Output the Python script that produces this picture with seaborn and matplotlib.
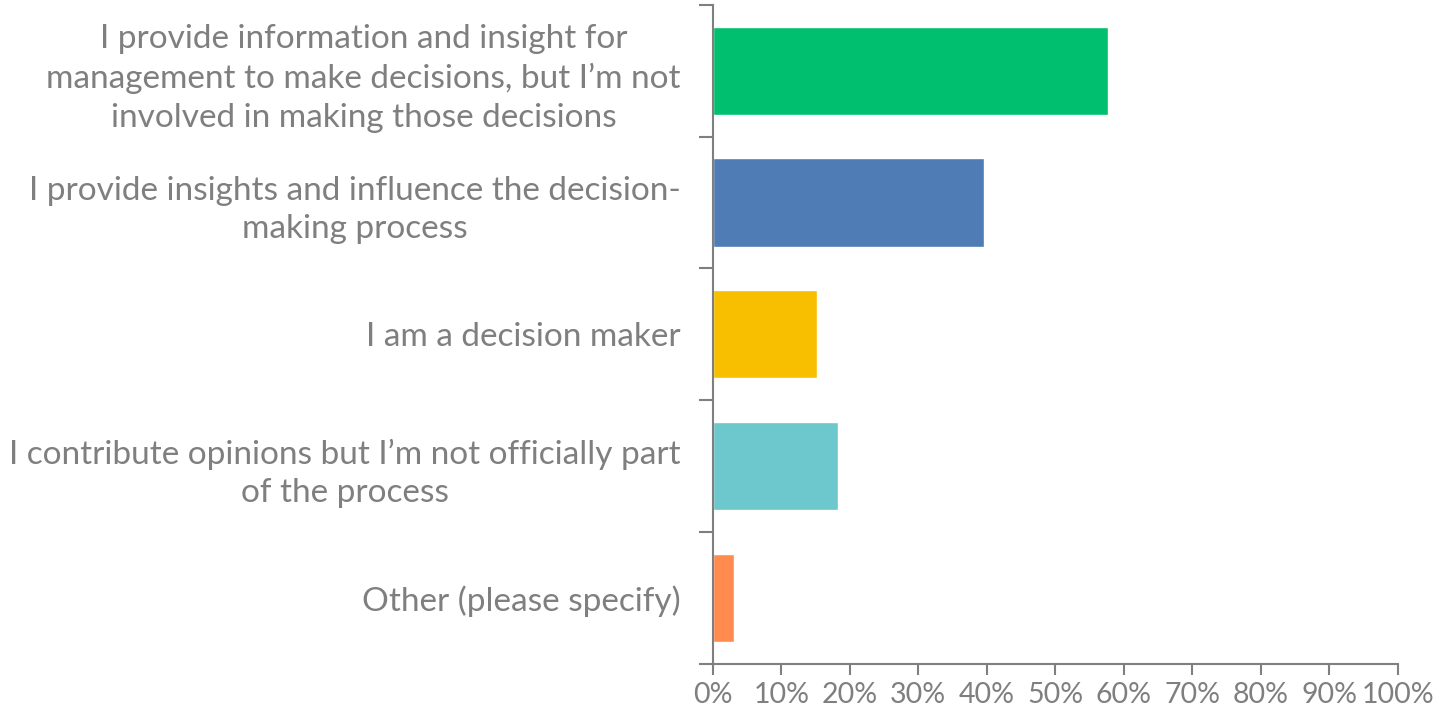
import matplotlib
matplotlib.use("Agg")
import matplotlib.pyplot as plt
import seaborn as sns
import pandas as pd
import numpy as np
from matplotlib.ticker import FixedLocator, PercentFormatter

categories = [
    "I provide information and insight for\nmanagement to make decisions, but I\u2019m not\ninvolved in making those decisions",
    "I provide insights and influence the decision-\nmaking process",
    "I am a decision maker",
    "I contribute opinions but I\u2019m not officially part\nof the process",
    "Other (please specify)",
]
shares = [57.7, 39.6, 15.2, 18.3, 3.1]
colors = ["#00BF6F", "#4F7CB4", "#F8BE00", "#6CC8CC", "#FF8B4F"]
xticks = list(range(0, 101, 10))

sns.set_theme(style="white")
plt.rcParams["font.family"] = ["Lato", "DejaVu Sans"]

grey = "#7F7F7F"
fig = plt.figure(figsize=(14.41, 7.06), dpi=100)
ax = fig.add_axes([0.4946, 0.0599, 0.4754, 0.933])

df = pd.DataFrame({"cat": categories, "share": shares})
sns.barplot(data=df, x="share", y="cat", hue="cat", palette=colors,
            legend=False, width=0.67, saturation=1, ax=ax)

ax.set_xlim(0, 100)
ax.set_ylim(len(categories) - 0.5, -0.5)
ax.set_xlabel("")
ax.set_ylabel("")

# Category labels sit between boundary ticks
ax.yaxis.set_major_locator(FixedLocator(np.arange(-0.5, len(categories), 1.0)))
ax.yaxis.set_minor_locator(FixedLocator(np.arange(len(categories))))
ax.set_yticklabels([""] * (len(categories) + 1))
ax.set_yticklabels(categories, minor=True, multialignment="center",
                   linespacing=1.36, fontsize=24, color=grey)
ax.tick_params(axis="y", which="major", length=10, width=1.5, color=grey, left=True)
ax.tick_params(axis="y", which="minor", length=0, pad=23)

ax.set_xticks(xticks)
ax.xaxis.set_major_formatter(PercentFormatter(decimals=0))
ax.tick_params(axis="x", which="major", length=8, width=1.5, color=grey,
               labelsize=20.5, labelcolor=grey, bottom=True, pad=5)

for side in ["top", "right"]:
    ax.spines[side].set_visible(False)
for side in ["left", "bottom"]:
    ax.spines[side].set_color(grey)
    ax.spines[side].set_linewidth(1.5)

fig.savefig("out.png", dpi=100, facecolor="white")
